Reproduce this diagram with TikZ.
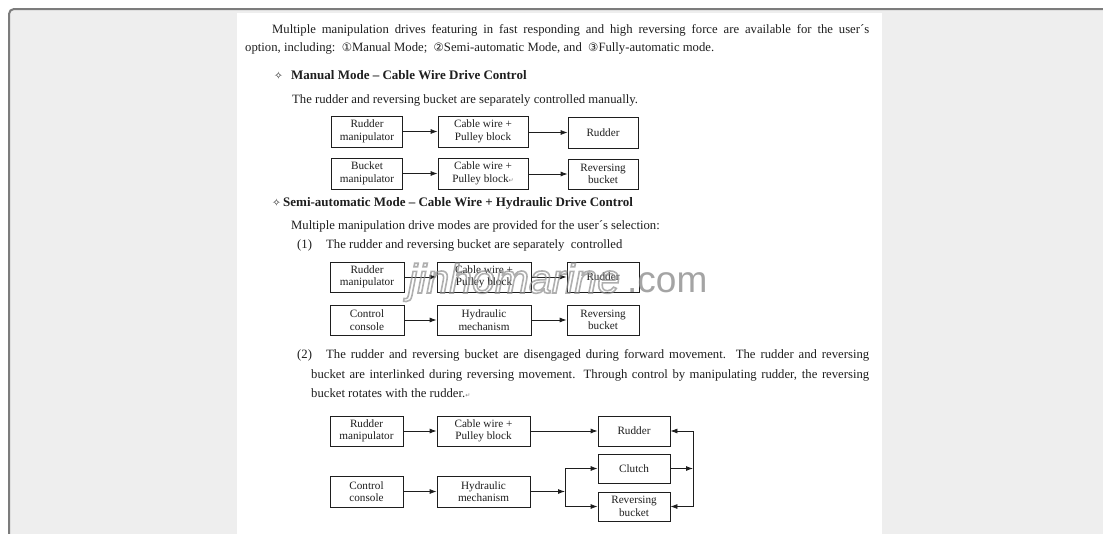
\documentclass[tikz,border=0pt]{standalone}
\usepackage{fontspec}
\setmainfont{Liberation Serif}
\newfontfamily\symfont{DejaVu Sans}
\newfontfamily\wmfont{Liberation Sans}
\usetikzlibrary{arrows.meta}
\definecolor{framegray}{HTML}{7C7C7C}
\definecolor{bggray}{HTML}{EEEEEE}
\definecolor{inkc}{HTML}{1E1E1E}
\definecolor{wmgray}{HTML}{8E8E8E}
\newcommand{\cdig}[1]{{\symfont\fontsize{11.5}{11.5}\selectfont #1}}
\newcommand{\retmark}{{\symfont\fontsize{6}{6}\selectfont\color{gray}↵}}
\newcommand{\starmark}{{\symfont\fontsize{10.5}{10.5}\selectfont ✧}}
\begin{document}
\begin{tikzpicture}[x=1pt,y=-1pt,
  txt/.style={inner sep=0pt, anchor=base west, font=\fontsize{12.7}{14}\selectfont, text=inkc},
  hdr/.style={txt, font=\fontsize{13}{14}\selectfont\bfseries},
  box/.style={draw=inkc, line width=0.8pt, inner sep=0pt, align=center, text=inkc,
    font=\fontsize{11.2}{12.6}\selectfont},
  arr/.style={draw=inkc, line width=0.8pt, -{Latex[length=7pt,width=5pt]}},
  ln/.style={draw=inkc, line width=0.8pt}]
\useasboundingbox (0,0) rectangle (1103,533);
\clip (0,0) rectangle (1103,533);
% frame and page
\fill[white] (0,0) rectangle (1103,533);
\draw[framegray, line width=2pt, fill=bggray, rounded corners=5pt] (9,9) rectangle (1120,550);
\fill[white] (237,13) rectangle (882,540);

% text
\node[txt] (l1) at (272,33) {\makebox[597pt][s]{Multiple manipulation drives featuring in fast responding and high reversing force are available for the user´s}};
\node[txt] (l2) at (245,51) {option, including:\ \ \cdig{①}Manual Mode;\ \ \cdig{②}Semi-automatic Mode, and\ \ \cdig{③}Fully-automatic mode.};
\node[txt] (s1) at (274,79) {\starmark};
\node[hdr] (h1) at (291,79) {Manual Mode -- Cable Wire Drive Control};
\node[txt] (p1) at (292,103) {The rudder and reversing bucket are separately controlled manually.};
\node[txt] (s2) at (272,206) {\starmark};
\node[hdr] (h2) at (283,206) {Semi-automatic Mode -- Cable Wire + Hydraulic Drive Control};
\node[txt] (p2) at (291,229) {Multiple manipulation drive modes\ are provided for the user´s selection:};
\node[txt] (n1) at (297,248) {(1)};
\node[txt] (p3) at (326,248) {The rudder and reversing bucket are separately\ \ controlled};
\node[txt] (n2) at (297,358) {(2)};
\node[txt] (p4a) at (326,358) {\makebox[543pt][s]{The rudder and reversing bucket are disengaged during forward movement.\ \ The rudder and reversing}};
\node[txt] (p4b) at (311,378) {\makebox[558pt][s]{bucket are interlinked during reversing movement. Through control by manipulating rudder, the reversing}};
\node[txt] (p4c) at (311,397) {bucket rotates with the rudder.\retmark};

% diagram 1
\node[box, minimum width=71pt, minimum height=31pt] (a1) at (367,131.5) {Rudder\\manipulator};
\node[box, minimum width=90pt, minimum height=31pt] (a2) at (483,131.5) {Cable wire +\\Pulley block};
\node[box, minimum width=70pt, minimum height=31pt] (a3) at (603,132.5) {Rudder};
\node[box, minimum width=71pt, minimum height=31pt] (b1) at (367,173.5) {Bucket\\manipulator};
\node[box, minimum width=90pt, minimum height=31pt] (b2) at (483,173.5) {Cable wire +\\Pulley block\retmark};
\node[box, minimum width=70pt, minimum height=30pt] (b3) at (603,174) {Reversing\\bucket};
\draw[arr] (a1) -- (a2);
\draw[arr] (a2.east |- a3) -- (a3);
\draw[arr] (b1) -- (b2);
\draw[arr] (b2.east |- b3) -- (b3);

% diagram 2
\node[box, minimum width=74pt, minimum height=30pt] (c1) at (367,277) {Rudder\\manipulator};
\node[box, minimum width=94pt, minimum height=30pt] (c2) at (484,277) {Cable wire +\\Pulley block};
\node[box, minimum width=72pt, minimum height=30pt] (c3) at (603,277) {Rudder};
\node[box, minimum width=74pt, minimum height=30pt] (d1) at (367,320) {Control\\console};
\node[box, minimum width=94pt, minimum height=30pt] (d2) at (484,320) {Hydraulic\\mechanism};
\node[box, minimum width=72pt, minimum height=30pt] (d3) at (603,320) {Reversing\\bucket};
\draw[arr] (c1) -- (c2);
\draw[arr] (c2) -- (c3);
\draw[arr] (d1) -- (d2);
\draw[arr] (d2) -- (d3);

% watermark
\node[inner sep=0pt, anchor=base west, text=wmgray, opacity=0.7,
  font=\wmfont\fontsize{41}{41}\selectfont] (wm1) at (408,293)
  {\special{pdf:literal direct 1 Tr 1.6 w}\itshape jinhomarine\special{pdf:literal direct 0 Tr}};
\node[inner sep=0pt, anchor=base west, text=wmgray, opacity=0.8,
  font=\wmfont\fontsize{37}{37}\selectfont] (wm2) at (627,292) {.com};

% diagram 3
\node[box, minimum width=73pt, minimum height=30pt] (e1) at (366.5,431) {Rudder\\manipulator};
\node[box, minimum width=93pt, minimum height=30pt] (e2) at (483.5,431) {Cable wire +\\Pulley block};
\node[box, minimum width=72pt, minimum height=30pt] (e3) at (634,431) {Rudder};
\node[box, minimum width=72pt, minimum height=29pt] (cl) at (634,468.5) {Clutch};
\node[box, minimum width=73pt, minimum height=31pt] (f1) at (366.5,491.5) {Control\\console};
\node[box, minimum width=93pt, minimum height=31pt] (f2) at (483.5,491.5) {Hydraulic\\mechanism};
\node[box, minimum width=72pt, minimum height=29pt] (f3) at (634,506.5) {Reversing\\bucket};
\coordinate (jl) at (565,491.5);
\coordinate (jr) at (693,468.5);
\draw[arr] (e1) -- (e2);
\draw[arr] (e2) -- (e3);
\draw[arr] (f1) -- (f2);
\draw[arr] (f2) -- (jl);
\draw[ln] (jl |- cl) -- (jl |- f3);
\draw[arr] (jl |- cl) -- (cl);
\draw[arr] (jl |- f3) -- (f3);
\draw[arr] (cl) -- (jr);
\draw[ln] (jr |- e3) -- (jr |- f3);
\draw[arr] (jr |- e3) -- (e3);
\draw[arr] (jr |- f3) -- (f3);
\end{tikzpicture}
\end{document}
